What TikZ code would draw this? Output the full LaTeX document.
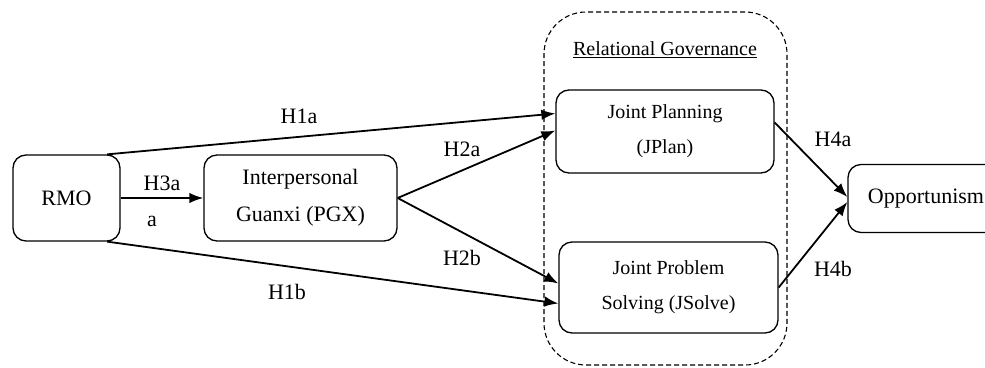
\documentclass[tikz,border=0pt]{standalone}
\usepackage{fontspec}
\setmainfont{Liberation Serif}
\usetikzlibrary{arrows.meta}
\tikzset{
  box/.style={draw, line width=1.3pt, rounded corners=13pt, align=center,
    font=\fontsize{22}{37}\selectfont, inner sep=0pt},
  inbox/.style={box, font=\fontsize{20}{35}\selectfont},
  link/.style={line width=1.8pt, -{Latex[length=14pt,width=10.5pt]}},
  lbl/.style={font=\fontsize{22}{25}\selectfont, inner sep=0pt},
  group/.style={draw, line width=1.1pt, dash pattern=on 5pt off 3pt, rounded corners=42pt}
}
\begin{document}
\begin{tikzpicture}[x=1pt, y=-1pt]
  \useasboundingbox (0,0) rectangle (985,367);
  \clip (0,0) rectangle (985,367);

  % relational governance group
  \node[group, minimum width=243pt, minimum height=353pt] (rg) at (665.5,188.5) {};
  \node[lbl, font=\fontsize{20}{24}\selectfont] (rgt) at (665,50) {\underline{Relational Governance}};

  % constructs
  \node[box, minimum width=107pt, minimum height=86pt] (rmo) at (66.5,198) {RMO};
  \node[box, minimum width=193pt, minimum height=86pt] (pgx) at (300.5,198) {Interpersonal\\Guanxi (PGX)};
  \node[inbox, minimum width=218pt, minimum height=83pt] (jplan) at (665,131.5) {Joint Planning\\(JPlan)};
  \node[inbox, minimum width=219pt, minimum height=91pt] (jsolve) at (668.5,287.5) {Joint Problem\\Solving (JSolve)};
  \node[box, minimum width=156pt, minimum height=68pt, text width=150pt] (opp) at (926,198.5) {Opportunism};

  % hypothesised paths
  \draw[link] (rmo.47) -- ([yshift=18pt]jplan.west);
  \draw[link] (rmo.east) -- (pgx.west);
  \draw[link] (pgx.east) -- ([yshift=1pt]jplan.west);
  \draw[link] (pgx.east) -- ([yshift=4pt]jsolve.west);
  \draw[link] (rmo.-47) -- ([yshift=-16pt]jsolve.west);
  \draw[link] (jplan.east) ++(0,-9) coordinate (jpe) (jpe) -- ([yshift=1.5pt]opp.west);
  \draw[link] (jsolve.east) -- ([yshift=-3.5pt]opp.west);

  % path labels
  \node[lbl] (l1a) at (299,116) {H1a};
  \node[lbl] (l3a) at (162,183) {H3a};
  \node[lbl] (l3b) at (152,221) {a};
  \node[lbl] (l2a) at (462,149) {H2a};
  \node[lbl] (l2b) at (462,258) {H2b};
  \node[lbl] (l1b) at (287,292) {H1b};
  \node[lbl] (l4a) at (833,139) {H4a};
  \node[lbl] (l4b) at (833,269) {H4b};
\end{tikzpicture}
\end{document}
